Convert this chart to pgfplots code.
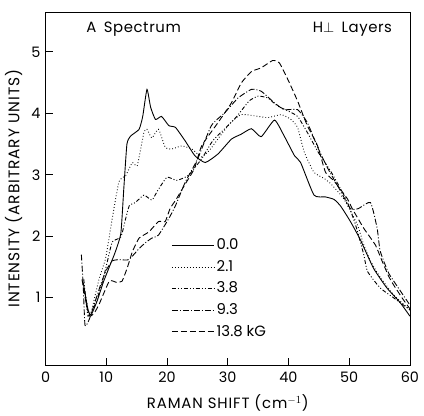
\documentclass[border=0pt]{standalone}
\usepackage{fontspec}
\setmainfont{Poppins}
\newfontfamily\lblfont[LetterSpace=6]{Poppins}
\newfontfamily\txtfont[LetterSpace=4, WordSpace=1.6]{Poppins}
\usepackage{pgfplots}
\pgfplotsset{compat=1.18}
\begin{document}
\fontsize{15}{17}\selectfont
\begin{tikzpicture}
\begin{axis}[
  scale only axis, width=367pt, height=356pt,
  xmin=0, xmax=60, ymin=-0.1, ymax=5.65,
  xtick={0,10,...,60}, ytick={1,2,3,4,5},
  tick pos=left, tick align=inside,
  major tick length=7pt,
  tick style={black, line width=0.8pt},
  axis line style={line width=0.8pt},
  /pgf/number format/assume math mode=true,
  ticklabel style={font=\fontsize{14.5}{16}\selectfont},
  xticklabel style={yshift=-1pt},
  xlabel={\lblfont RAMAN SHIFT (cm$^{-1}$)},
  ylabel={\lblfont\fontsize{15.5}{17}\selectfont INTENSITY (ARBITRARY UNITS)},
  label style={font=\fontsize{15}{17}\selectfont},
  xlabel style={yshift=-2pt},
  ylabel style={yshift=-1pt},
  legend style={at={(0.345,0.37)}, anchor=north west, draw=none, fill=none,
    font=\fontsize{15}{17}\selectfont, row sep=4.5pt, inner xsep=0pt},
  legend cell align=left,
  legend image code/.code={\draw[#1] (0cm,0cm) -- (1.5cm,0cm);},
  every axis plot/.append style={line width=0.9pt, smooth, tension=0.3},
]
\addplot[black, solid] coordinates {
(6.2,1.25)(7.0,0.8)(7.5,0.72)(8.5,0.95)(9.5,1.25)(10.7,1.55)(11.5,1.75)(12.4,2.05)(12.9,2.8)(13.4,3.5)(14,3.63)(15.4,3.74)(16.0,3.95)(16.7,4.39)(17.3,4.1)(18.1,3.9)(19.1,3.95)(20.3,3.8)(21.4,3.77)(23,3.55)(24.6,3.31)(26.3,3.2)(28.4,3.34)(30.6,3.58)(32.2,3.66)(33.9,3.75)(35.5,3.62)(37.7,3.89)(39.3,3.63)(41,3.31)(42,3.2)(44.2,2.67)(46.1,2.64)(47.5,2.6)(48.6,2.49)(50.2,2.24)(51.8,1.95)(54,1.48)(56.2,1.16)(58.4,0.92)(60,0.7)};
\addlegendentry{0.0}
\addplot[black, dash pattern=on 0.8pt off 2.2pt] coordinates {
(6.3,1.2)(7.2,0.7)(7.7,0.84)(8.8,1.3)(9.9,1.65)(11,2.3)(12.1,2.89)(13.2,2.99)(14.3,3.2)(15.1,3.15)(16.2,3.69)(16.7,3.74)(17.5,3.6)(18.6,3.74)(19.7,3.45)(20.8,3.42)(22.4,3.47)(24.1,3.42)(25.7,3.29)(27,3.4)(28.5,3.6)(30.5,3.85)(32.2,3.98)(34.4,3.96)(36.6,3.93)(38.8,3.98)(40.4,3.9)(41.5,3.77)(42.6,3.37)(44.2,3.04)(45.9,2.94)(47,2.85)(49.1,2.61)(51.3,2.2)(52.4,1.86)(53.5,1.6)(55,1.35)(57.3,1.05)(60,0.8)};
\addlegendentry{2.1}
\addplot[black, dash pattern=on 4pt off 2pt on 1pt off 2pt on 1pt off 2pt] coordinates {
(6.3,1.3)(7,0.7)(8.2,0.9)(9.4,1.27)(10.2,1.6)(11,1.91)(12.4,1.99)(13.2,2.29)(13.8,2.5)(14.8,2.55)(16.2,2.67)(17.5,2.59)(18.5,2.75)(20,2.96)(21.6,2.91)(23.5,2.99)(25.7,3.26)(27.5,3.55)(29.5,3.75)(31.5,3.95)(33.5,4.2)(35,4.28)(36.6,4.25)(38.2,4.12)(39.9,4.04)(41.5,3.95)(43.1,3.69)(45,3.35)(47,3.05)(49.5,2.6)(51,2.2)(52.4,1.7)(53,1.43)(55.1,1.16)(57.3,1.0)(59.5,0.84)(60,0.8)};
\addlegendentry{3.8}
\addplot[black, dash pattern=on 6pt off 2pt on 1pt off 2pt] coordinates {
(5.9,1.7)(6.2,1.2)(6.5,0.55)(7.2,0.65)(8.2,0.95)(9.2,1.25)(10,1.45)(11,1.6)(12.1,1.62)(13.7,1.62)(15.4,1.8)(16.5,1.9)(17.5,1.97)(18.6,2.02)(20.3,2.29)(21.4,2.5)(23,2.88)(25,3.25)(27.3,3.8)(29.5,4.01)(31.7,4.25)(33.9,4.39)(35.5,4.36)(37.7,4.17)(39.3,4.06)(41.5,4.06)(43.1,3.85)(44.8,3.45)(46.5,3.1)(48.5,2.75)(50.2,2.45)(51.5,2.45)(53.5,2.55)(54.6,2.13)(55.1,1.76)(56.5,1.4)(58.5,1.1)(60,0.88)};
\addlegendentry{9.3}
\addplot[black, dash pattern=on 6pt off 3pt] coordinates {
(6.0,1.3)(6.8,0.85)(7.3,0.7)(8,0.75)(8.8,0.89)(10.5,1.27)(11.7,1.25)(12.6,1.27)(13.5,1.5)(14.3,1.75)(15.4,1.97)(17,2.07)(18.6,2.24)(19.7,2.24)(20.5,2.45)(21.5,2.6)(23,2.85)(24.5,3.1)(25.7,3.47)(28.4,3.85)(30.6,4.17)(32.2,4.49)(33.9,4.68)(35.5,4.74)(37.4,4.86)(38.5,4.82)(39.9,4.55)(41.5,4.2)(43.1,3.8)(44.8,3.47)(46.1,3.04)(47.5,2.9)(49.7,2.61)(50.5,2.45)(52.4,2.13)(54.3,1.86)(55.4,1.6)(56.5,1.35)(57.3,1.21)(58.9,0.97)(60,0.82)};
\addlegendentry{13.8 kG}
\node[anchor=west, font=\txtfont] at (rel axis cs:0.098,0.95) {A Spectrum};
\node[anchor=east, font=\txtfont] at (rel axis cs:0.965,0.95) {H$\perp$ Layers};
\end{axis}
\path (0,368pt);
\end{tikzpicture}
\end{document}
